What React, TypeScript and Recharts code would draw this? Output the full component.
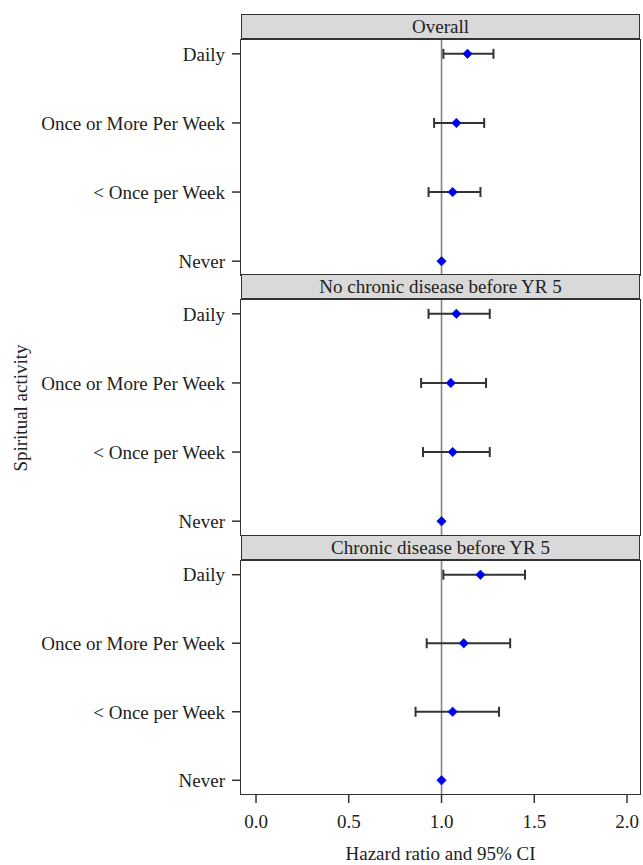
import { ScatterChart, Scatter, XAxis, YAxis, ErrorBar, ReferenceLine } from 'recharts';

const categories = ['Daily', 'Once or More Per Week', '< Once per Week', 'Never'];
const xTicks = [0, 0.5, 1, 1.5, 2];

const overallHR = [1.14, 1.08, 1.06, 1.0];
const overallLow = [1.01, 0.96, 0.93, null];
const overallHigh = [1.28, 1.23, 1.21, null];

const noChronicHR = [1.08, 1.05, 1.06, 1.0];
const noChronicLow = [0.93, 0.89, 0.9, null];
const noChronicHigh = [1.26, 1.24, 1.26, null];

const chronicHR = [1.21, 1.12, 1.06, 1.0];
const chronicLow = [1.01, 0.92, 0.86, null];
const chronicHigh = [1.45, 1.37, 1.31, null];

const FONT = '"Liberation Serif", "Times New Roman", serif';
const TEXT = '#222';

function buildRows(hr: number[], low: (number | null)[], high: (number | null)[]) {
  return categories.map((c, i) => ({
    cat: c,
    y: categories.length - 1 - i,
    hr: hr[i],
    err: low[i] == null || high[i] == null ? null : [hr[i] - (low[i] as number), (high[i] as number) - hr[i]],
  }));
}

const Diamond = (props: any) => {
  const { cx, cy } = props;
  if (cx == null || cy == null) return null;
  const r = 4.7;
  return (
    <polygon
      points={`${cx},${cy - r} ${cx + r},${cy} ${cx},${cy + r} ${cx - r},${cy}`}
      fill="#0000f0"
      stroke="#1a1ad0"
      strokeWidth={0.8}
    />
  );
};

type PanelProps = {
  title: string;
  rows: any[];
  headerTop: number;
  plotTop: number;
  plotHeight: number;
  showX?: boolean;
};

function Panel({ title, rows, headerTop, plotTop, plotHeight, showX }: PanelProps) {
  const xAxisH = showX ? 70 : 0;
  return (
    <>
      <div
        style={{
          position: 'absolute',
          left: 241,
          top: headerTop,
          width: 399,
          height: plotTop - headerTop,
          boxSizing: 'border-box',
          background: '#d9d9d9',
          border: '1.5px solid #333',
          borderBottomWidth: 2,
          fontFamily: FONT,
          fontSize: 19,
          color: TEXT,
          textAlign: 'center',
          lineHeight: `${plotTop - headerTop - 3}px`,
        }}
      >
        {title}
      </div>
      <div style={{ position: 'absolute', left: 0, top: plotTop }}>
        <ScatterChart
          width={643}
          height={plotHeight + xAxisH}
          margin={{ top: 0, right: 3, bottom: 0, left: 0 }}
        >
          <XAxis
            type="number"
            dataKey="hr"
            domain={[-0.081, 2.07]}
            ticks={xTicks}
            allowDataOverflow
            hide={!showX}
            height={xAxisH}
            axisLine={false}
            tickSize={9}
            tickMargin={12}
            tickLine={{ stroke: '#333', strokeWidth: 1.5 }}
            tickFormatter={(v: number) => v.toFixed(1)}
            tick={{ fill: TEXT, fontSize: 19, fontFamily: FONT }}
            label={
              showX
                ? {
                    value: 'Hazard ratio and 95% CI',
                    position: 'insideBottom',
                    offset: 4,
                    fill: TEXT,
                    fontSize: 19,
                    fontFamily: FONT,
                  }
                : undefined
            }
          />
          <YAxis
            type="number"
            dataKey="y"
            domain={[-0.2, 3.2]}
            ticks={[0, 1, 2, 3]}
            interval={0}
            allowDataOverflow
            width={241}
            axisLine={false}
            tickSize={9}
            tickMargin={7}
            tickLine={{ stroke: '#333', strokeWidth: 1.5 }}
            tickFormatter={(v: number) => categories[categories.length - 1 - v]}
            tick={{ fill: TEXT, fontSize: 19, fontFamily: FONT }}
          />
          <ReferenceLine x={1} stroke="#858585" strokeWidth={1.6} />
          <Scatter data={rows} shape={Diamond} isAnimationActive={false}>
            <ErrorBar dataKey="err" direction="x" width={5} stroke="#333" strokeWidth={2} />
          </Scatter>
        </ScatterChart>
      </div>
      <div
        style={{
          position: 'absolute',
          left: 240,
          top: plotTop - 1,
          width: 401,
          height: plotHeight + 2,
          boxSizing: 'border-box',
          border: '1.5px solid #333',
          pointerEvents: 'none',
        }}
      />
    </>
  );
}

export default function App() {
  return (
    <div style={{ position: 'absolute', left: 0, top: 0, width: 643, height: 865, background: '#fff' }}>
      <svg width={40} height={865} style={{ position: 'absolute', left: 0, top: 0 }}>
        <text
          x={20}
          y={408}
          transform="rotate(-90, 20, 408)"
          textAnchor="middle"
          dominantBaseline="central"
          fill={TEXT}
          fontSize={19}
          fontFamily={FONT}
        >
          Spiritual activity
        </text>
      </svg>
      <Panel title="Overall" rows={buildRows(overallHR, overallLow, overallHigh)} headerTop={14} plotTop={40} plotHeight={235} />
      <Panel
        title="No chronic disease before YR 5"
        rows={buildRows(noChronicHR, noChronicLow, noChronicHigh)}
        headerTop={274}
        plotTop={300}
        plotHeight={235}
      />
      <Panel
        title="Chronic disease before YR 5"
        rows={buildRows(chronicHR, chronicLow, chronicHigh)}
        headerTop={535}
        plotTop={561}
        plotHeight={233}
        showX
      />
    </div>
  );
}
